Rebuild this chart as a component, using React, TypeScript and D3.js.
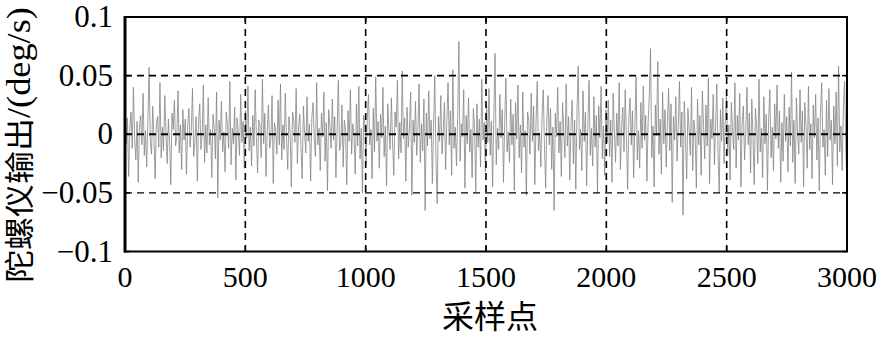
import React from 'react';
import * as d3 from 'd3';

const xTicks = [0, 500, 1000, 1500, 2000, 2500, 3000];
const yTicks = [-0.1, -0.05, 0, 0.05, 0.1];
const yTickLabels = ['\u22120.1', '\u22120.05', '0', '0.05', '0.1'];
const xLabel = '采样点';
const yLabelCn = '陀螺仪输出';
const yLabelUnit = '/(deg/s)';
const sampleCount = 3000;

// gyro output, every 5th sample, in 0.001 deg/s
const gyroRow0 = [30, -8, 14, -36, 5, 19, -12, 40, -4, -22, 11, -41, 7, 16, -9, 35, -18, 3, -28, 12, 57, -6, -17, 24, -3, -38, 9, 15, -11, 44, -20, 6, -14, 33, 2, -25, 13, -7, -43, 18, 4, 29, -10, -2, 37, -16, 8, -30, 21, -5];
const gyroRow1 = [13, -34, 7, 22, -11, 3, 39, -19, -6, 15, -40, 10, 26, -13, -1, 42, -24, 8, -16, 31, -9, 4, -37, 17, 6, -21, 36, -54, 12, -5, 28, -15, 2, -32, 19, 9, -12, 45, -26, 5, -8, 23, -39, 14, 1, -18, 34, -7, 11, -29];
const gyroRow2 = [20, -3, 41, -14, 6, -27, 16, -10, 38, -2, -33, 12, 7, -20, 47, -8, 18, -36, 3, 25, -12, -5, 33, -42, 10, 4, -17, 29, -9, 43, -22, 8, -13, 35, -4, -30, 15, 2, -45, 19, 11, -7, 39, -25, 6, 17, -11, -38, 24, 1];
const gyroRow3 = [-16, 32, -6, 9, -40, 14, 27, -3, -19, 44, -9, 5, -31, 18, -2, 36, -23, 10, -48, 21, 7, -12, 30, -5, 15, -37, 4, 46, -14, -8, 25, -28, 12, 3, -43, 20, -6, 38, -17, 9, 1, -34, 26, -10, 41, -21, 5, -50, 16, 8];
const gyroRow4 = [-26, 13, 34, -9, 4, -38, 22, -15, 49, -6, 11, -29, 17, -3, 40, -19, 7, -44, 26, 2, -13, 31, -8, -35, 19, 6, 46, -21, 10, -16, 54, -4, 14, -40, 23, -11, 5, 36, -52, 12, -7, 28, -18, 3, 43, -24, 9, -14, 30, -65];
const gyroRow5 = [18, -10, 37, -4, 12, -42, 8, 50, -21, -59, 15, -6, 33, -17, 3, 27, -30, 11, 44, -9, 20, -35, 55, -12, 6, -27, 14, 79, -23, 9, -2, 38, -46, 16, -8, 31, -15, 4, -37, 22, 7, -49, 26, -11, 13, -28, 47, -5, 10, -32];
const gyroRow6 = [25, -7, 39, -18, 11, -45, 16, 69, -26, 5, -13, 34, -3, 21, -41, 9, 48, -15, 2, -24, 30, -9, 17, -48, 27, -4, 42, -20, 8, -33, 36, -11, 3, -52, 19, 12, -17, 35, -6, 24, -43, 10, 45, -14, 1, -28, 15, 38, -10, -46];
const gyroRow7 = [14, 33, -9, 22, -30, 6, -65, 18, -2, 40, -16, 11, -36, 27, 3, -20, 43, -10, 15, -39, 8, 29, -25, 12, -47, 20, 58, -13, 4, -31, 37, -6, 19, -44, 9, 46, -18, 5, -27, 32, -11, 16, -50, 24, -3, 41, -21, 7, -35, 21];
const gyroRow8 = [-7, 29, -19, 12, -41, 35, 2, -24, 18, -10, 44, -30, 6, 23, -15, 38, -4, -47, 14, 31, -9, 20, -37, 8, 49, -22, 3, -29, 27, -12, 41, -5, 16, -40, 10, 33, 73, -20, 7, -45, 25, -1, 62, -17, 13, -34, 36, -8, 21, -28];
const gyroRow9 = [10, 39, -14, 26, -58, 15, -5, 32, -23, 7, 45, -11, 19, -69, 28, -3, -38, 22, 4, -18, 40, -31, 12, 1, -46, 30, -9, 16, -35, 37, 6, -21, 25, -10, 48, -42, 13, -4, 34, -26, 9, 43, -16, -50, 21, -6, 31, -25, 11, 36];
const gyroRow10 = [-18, 8, -39, 27, 3, -13, 44, -29, 16, -5, 35, -45, 11, 24, -22, 2, 40, -9, 18, -33, 30, -2, -43, 22, 8, -25, 47, -15, 5, -37, 32, -8, 17, -48, 13, 38, -20, 6, -31, 26, -4, 42, -12, 20, -41, 10, -23, 34, -6, 15];
const gyroRow11 = [-32, 23, -10, 53, -24, 12, -42, 31, 1, -17, 38, -7, 20, -45, 27, 6, -29, 41, -13, 9, -38, 25, -3, 34, -22, 14, -48, 18, 44, -11, 4, -35, 29, -19, 39, -5, 12, -43, 24, -8, 36, -27, 58, -15, 7, -31, 22, 45, -12, -45];

const gyroMilli = [
  ...gyroRow0, ...gyroRow1, ...gyroRow2, ...gyroRow3, ...gyroRow4, ...gyroRow5,
  ...gyroRow6, ...gyroRow7, ...gyroRow8, ...gyroRow9, ...gyroRow10, ...gyroRow11,
];

const SERIF = 'Liberation Serif';
const CJK = 'Noto Sans CJK SC';

const width = 882;
const height = 339;
const left = 125, right = 847, top = 17, bottom = 251.5;

const GyroChart: React.FC = () => {
  const x = d3.scaleLinear().domain([0, sampleCount]).range([left, right]);
  const y = d3.scaleLinear().domain([-0.1, 0.1]).range([bottom, top]);
  const step = sampleCount / (gyroMilli.length - 1);

  const line = d3.line<number>()
    .x((d, i) => x(i * step))
    .y(d => y(d / 1000));

  return (
    <svg width={width} height={height} viewBox={`0 0 ${width} ${height}`} lang="en"
      fontFamily={SERIF}
      style={{ position: 'absolute', left: 0, top: 0, background: '#fff' }}>
      {/* signal */}
      <path d={line(gyroMilli) ?? ''} fill="none" stroke="#858585" strokeWidth={0.8} />

      {/* grid */}
      {xTicks.slice(1, -1).map(t => (
        <line key={`gx${t}`} x1={x(t)} x2={x(t)} y1={top} y2={bottom}
          stroke="#000" strokeWidth={1.6} strokeDasharray="7,5" />
      ))}
      {yTicks.filter(t => Math.abs(t) < 0.1).map(t => (
        <line key={`gy${t}`} x1={left} x2={right} y1={y(t)} y2={y(t)}
          stroke="#000" strokeWidth={t < 0 ? 1.1 : 1.8} strokeDasharray="7,5" />
      ))}

      {/* inward ticks on all four sides */}
      {xTicks.map(t => (
        <g key={`tx${t}`} stroke="#000" strokeWidth={1.5}>
          <line x1={x(t)} x2={x(t)} y1={bottom} y2={bottom - 5} />
          <line x1={x(t)} x2={x(t)} y1={top} y2={top + 5} />
        </g>
      ))}
      {yTicks.map(t => (
        <g key={`ty${t}`} stroke="#000" strokeWidth={1.5}>
          <line x1={left} x2={left + 5} y1={y(t)} y2={y(t)} />
          <line x1={right} x2={right - 5} y1={y(t)} y2={y(t)} />
        </g>
      ))}

      {/* frame */}
      <rect x={left} y={top} width={right - left} height={bottom - top}
        fill="none" stroke="#000" strokeWidth={2} />
      <line x1={left} x2={left} y1={top - 1} y2={bottom + 1} stroke="#000" strokeWidth={3} />

      {/* tick labels */}
      {xTicks.map(t => (
        <text key={`lx${t}`} lang="en" x={x(t)} y={287} textAnchor="middle"
          fontFamily={SERIF} fontSize={30} fill="#000">{t}</text>
      ))}
      {yTicks.map((t, i) => (
        <text key={`ly${t}`} lang="en" x={113} y={y(t) + 10} textAnchor="end"
          fontFamily={SERIF} fontSize={31} fill="#000">{yTickLabels[i]}</text>
      ))}

      {/* axis titles */}
      <text lang="zh-CN" x={490} y={328} textAnchor="middle" fontFamily={CJK} fontSize={32} fill="#000">{xLabel}</text>
      <text transform="translate(26,145) rotate(-90) scale(1.1,1)" y={4} textAnchor="middle" fontSize={30} fill="#000">
        <tspan lang="zh-CN" fontFamily={CJK}>{yLabelCn}</tspan>
        <tspan lang="en" fontFamily={SERIF} fontSize={33}>{yLabelUnit}</tspan>
      </text>
    </svg>
  );
};

export default function App() {
  return <GyroChart />;
}
